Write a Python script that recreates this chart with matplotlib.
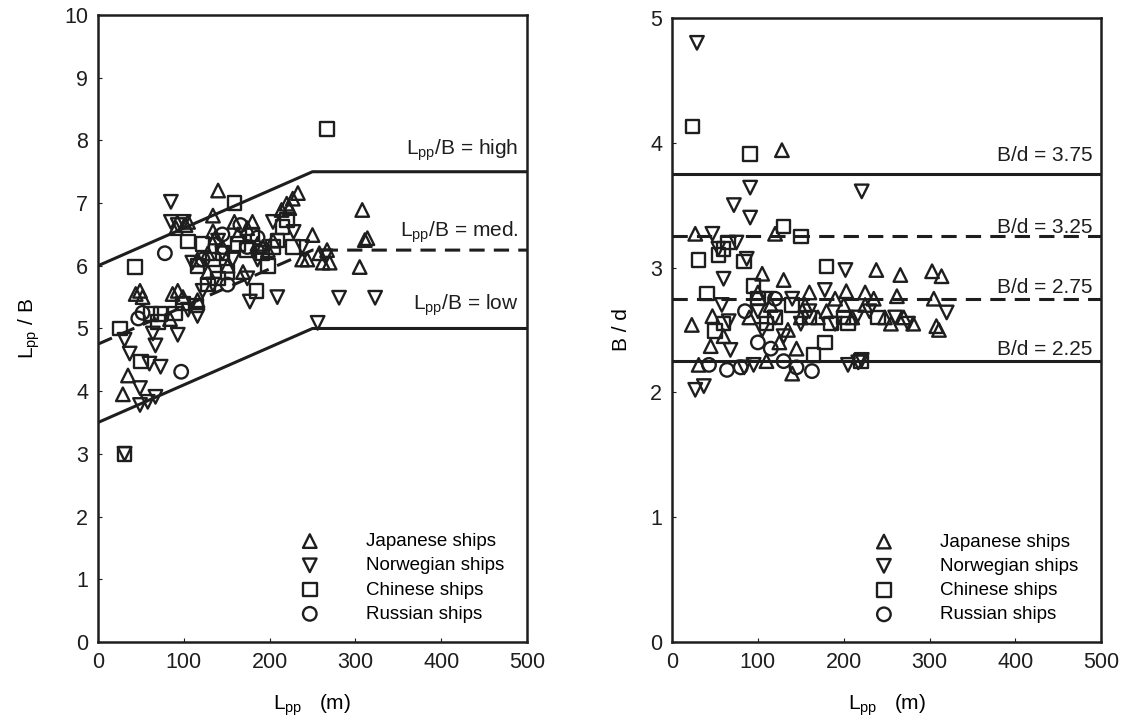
import numpy as np
import matplotlib
matplotlib.use("Agg")
import matplotlib.pyplot as plt

plt.rcParams['font.family'] = ['Liberation Sans', 'DejaVu Sans']

# ---- left panel data: L_pp (m) vs L_pp/B
jap_L1 = [29, 35, 44, 49, 52, 84, 87, 93, 99, 91, 102, 105, 116, 116, 128, 128, 134, 134, 137, 140,
          145, 151, 159, 163, 169, 174, 180, 186, 192, 198, 204, 214, 220, 223, 227, 233, 238, 244,
          250, 258, 262, 267, 270, 305, 308, 311, 314]
jap_LB = [3.95, 4.25, 5.55, 5.6, 5.5, 5.15, 5.55, 5.6, 5.5, 6.6, 6.65, 6.7, 6.1, 5.45, 6.2, 5.9,
          6.8, 6.55, 6.45, 7.2, 6.3, 6.0, 6.7, 6.5, 5.9, 6.6, 6.7, 6.35, 6.3, 6.25, 6.4, 6.89, 6.99,
          6.92, 7.07, 7.16, 6.1, 6.1, 6.49, 6.2, 6.05, 6.25, 6.05, 5.98, 6.89, 6.41, 6.44]

nor_L1 = [31, 31, 37, 49, 49, 58, 67, 60, 73, 64, 67, 93, 85, 85, 93, 100, 105, 110, 116, 122, 134,
          140, 145, 157, 174, 177, 186, 204, 209, 228, 238, 256, 265, 281, 323]
nor_LB = [3.0, 4.82, 4.6, 4.05, 3.78, 3.83, 3.91, 4.44, 4.39, 4.92, 4.73, 4.9, 7.02, 6.7, 6.65,
          6.7, 5.3, 6.05, 5.2, 5.6, 5.7, 6.4, 6.2, 6.1, 5.8, 5.43, 6.1, 6.7, 5.5, 6.54, 6.3, 5.09,
          6.15, 5.49, 5.49]

chn_L1 = [26, 31, 43, 50, 62, 70, 73, 90, 99, 105, 114, 116, 122, 128, 134, 140, 145, 151, 159,
          163, 174, 180, 185, 192, 198, 204, 209, 215, 220, 227, 267]
chn_LB = [5.0, 3.0, 5.98, 4.47, 5.23, 5.1, 5.23, 5.24, 5.4, 6.39, 5.37, 6.0, 6.35, 5.7, 6.1,
          5.8, 6.2, 5.9, 7.0, 6.35, 6.25, 6.5, 5.6, 6.2, 6.0, 6.3, 6.4, 6.62, 6.73, 6.3, 8.18]

rus_L1 = [47, 52, 78, 97, 122, 145, 151, 166, 174, 186]
rus_LB = [5.16, 5.25, 6.2, 4.31, 6.1, 6.5, 5.7, 6.65, 6.3, 6.45]

# design lines for L_pp/B
lb_x = [0, 250, 500]
lb_high = [6.0, 7.5, 7.5]
lb_med = [4.75, 6.25, 6.25]
lb_low = [3.5, 5.0, 5.0]
lb_names = ['high', 'med.', 'low']
lb_text_y = [7.85, 6.54, 5.37]

# ---- right panel data: L_pp (m) vs B/d
jap_L2 = [23, 27, 31, 45, 47, 60, 90, 100, 105, 110, 115, 120, 125, 128, 130, 135, 140, 145, 150,
          155, 160, 170, 180, 190, 200, 203, 210, 225, 225, 235, 238, 248, 255, 262, 266, 270, 281,
          303, 305, 308, 311, 314]
jap_Bd = [2.54, 3.27, 2.22, 2.37, 2.61, 2.45, 2.6, 2.8, 2.95, 2.25, 2.7, 3.27, 2.4, 3.94, 2.9,
          2.5, 2.15, 2.35, 2.6, 2.7, 2.8, 2.6, 2.65, 2.75, 2.7, 2.81, 2.6, 2.8, 2.7, 2.75, 2.98,
          2.6, 2.55, 2.77, 2.94, 2.6, 2.55, 2.97, 2.75, 2.53, 2.5, 2.93]

nor_L2 = [27, 29, 37, 47, 54, 58, 60, 66, 68, 72, 75, 84, 87, 91, 91, 95, 100, 105, 110, 120,
          130, 140, 150, 160, 178, 190, 202, 205, 215, 217, 221, 221, 230, 260, 275, 320]
nor_Bd = [2.02, 4.8, 2.05, 3.27, 3.15, 2.7, 2.91, 2.57, 2.34, 3.5, 3.2, 2.2, 3.07, 3.64, 3.4,
          2.22, 2.65, 2.5, 2.75, 2.6, 2.45, 2.75, 2.55, 2.65, 2.82, 2.55, 2.98, 2.22, 2.6, 2.24,
          3.61, 2.26, 2.65, 2.6, 2.55, 2.64]

chn_L2 = [24, 31, 41, 50, 54, 60, 60, 65, 84, 91, 95, 100, 110, 120, 130, 140, 150, 160, 165,
          178, 180, 185, 200, 205, 220, 240]
chn_Bd = [4.13, 3.06, 2.79, 2.49, 3.1, 3.15, 2.55, 3.2, 3.05, 3.91, 2.85, 2.75, 2.55, 2.6, 3.33,
          2.7, 3.25, 2.6, 2.3, 2.4, 3.01, 2.55, 2.6, 2.55, 2.25, 2.6]

rus_L2 = [43, 64, 80, 85, 100, 115, 120, 130, 145, 163]
rus_Bd = [2.22, 2.18, 2.2, 2.65, 2.4, 2.35, 2.75, 2.25, 2.2, 2.17]

bd_levels = [3.75, 3.25, 2.75, 2.25]
bd_styles = ['-', '--', '--', '-']
bd_text_y = [3.90, 3.32, 2.84, 2.34]

groups = ['Japanese ships', 'Norwegian ships', 'Chinese ships', 'Russian ships']
markers = ['^', 'v', 's', 'o']
ink = '#1e1e1e'
dash = (0, (5, 3))

fig = plt.figure(figsize=(11.22, 7.24), dpi=100)
ax1 = fig.add_axes([0.0873, 0.1133, 0.3824, 0.866])
ax2 = fig.add_axes([0.599, 0.1133, 0.3824, 0.862])

left_sets = [(jap_L1, jap_LB), (nor_L1, nor_LB), (chn_L1, chn_LB), (rus_L1, rus_LB)]
right_sets = [(jap_L2, jap_Bd), (nor_L2, nor_Bd), (chn_L2, chn_Bd), (rus_L2, rus_Bd)]

for ax, sets in [(ax1, left_sets), (ax2, right_sets)]:
    for (xs, ys), m, name in zip(sets, markers, groups):
        ax.scatter(xs, ys, marker=m, s=95, facecolors='none', edgecolors=ink,
                   linewidths=1.7, label=name, zorder=3)

ax1.plot(lb_x, lb_high, color=ink, lw=2.2)
ax1.plot(lb_x, lb_med, color=ink, lw=2.2, ls=dash)
ax1.plot(lb_x, lb_low, color=ink, lw=2.2)
for nm, ty in zip(lb_names, lb_text_y):
    ax1.text(490, ty, '$\\mathregular{L_{pp}}$/B = ' + nm, ha='right', va='center',
             fontsize=15, color=ink)

for lvl, st, ty in zip(bd_levels, bd_styles, bd_text_y):
    ax2.axhline(lvl, color=ink, lw=2.2, ls=st if st == '-' else dash)
    ax2.text(490, ty, 'B/d = %.2f' % lvl, ha='right', va='center', fontsize=15, color=ink)

ax1.set_xlim(0, 500)
ax1.set_ylim(0, 10)
ax1.set_yticks(range(0, 11))
ax2.set_xlim(0, 500)
ax2.set_ylim(0, 5)
ax2.set_yticks(range(0, 6))

ax1.set_ylabel('$\\mathregular{L_{pp}}$ / B', fontsize=15, labelpad=16)
ax2.set_ylabel('B / d', fontsize=15, labelpad=14)

for ax in (ax1, ax2):
    ax.set_xticks(range(0, 501, 100))
    ax.set_xlabel('$\\mathregular{L_{pp}}$   (m)', fontsize=15, labelpad=14)
    ax.tick_params(direction='in', length=3, labelsize=15.5, colors=ink, pad=7)
    for sp in ax.spines.values():
        sp.set_color(ink)
        sp.set_linewidth(1.8)
    ax.legend(loc='upper left', frameon=False, fontsize=13.5, handletextpad=2.0,
              labelspacing=0.38, borderaxespad=0, borderpad=0,
              bbox_to_anchor=(0.45, 0.174))

plt.savefig('out.png', dpi=100)
